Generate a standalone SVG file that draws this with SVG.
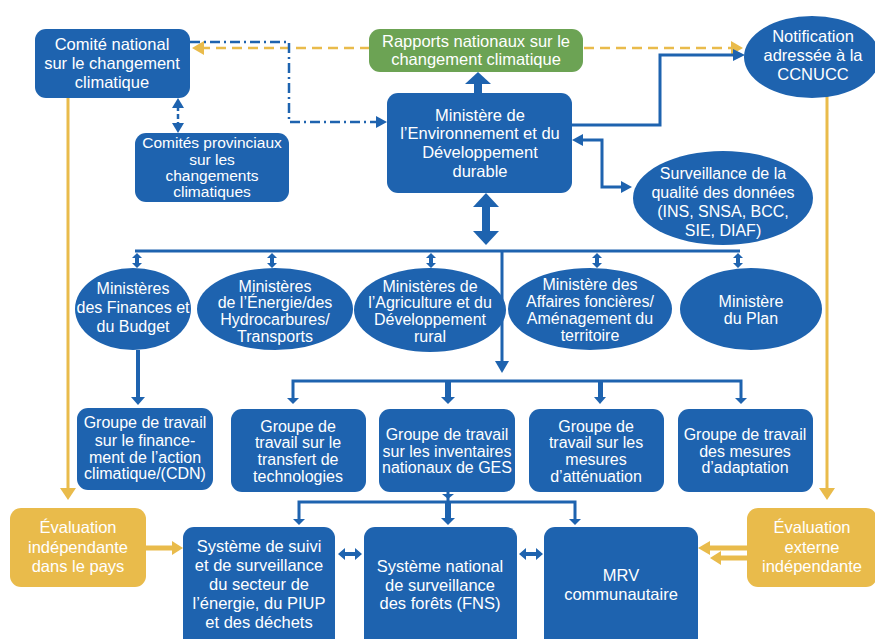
<svg xmlns="http://www.w3.org/2000/svg" width="875" height="639" viewBox="0 0 875 639">
<style>
.b{fill:#1e63af}
.y{fill:#e9bb4b}
.g{fill:#6ca354}
text{font-family:"Liberation Sans",Arial,sans-serif;font-size:16.5px;fill:#fff;text-anchor:middle}
.s text{font-size:16px}
.p text{font-size:15.5px}
.ln{fill:none;stroke:#1e63af;stroke-width:3}
.yl{fill:none;stroke:#e9bb4b;stroke-width:3}
.ah{fill:#1e63af}
.ya{fill:#e9bb4b}
</style>
<rect width="875" height="639" fill="#fff"/>
<g id="connectors">
<line x1="200" y1="48" x2="735" y2="48" stroke="#e9bb4b" stroke-width="2.5" stroke-dasharray="10 6"/>
<polygon class="ya" points="192,48 204,41 204,55"/>
<polygon class="ya" points="743,48 731,41 731,55"/>
<path d="M190,42 H289 V122 H378" fill="none" stroke="#1e63af" stroke-width="2.5" stroke-dasharray="10 4 2 4"/>
<polygon class="ah" points="387,122 376,116 376,128"/>
<line x1="178" y1="106" x2="178" y2="126" stroke="#1e63af" stroke-width="2.5" stroke-dasharray="5 3"/>
<polygon class="ah" points="178,98 172,108 184,108"/>
<polygon class="ah" points="178,133 172,123 184,123"/>
<rect class="ah" x="474" y="82" width="8" height="11"/>
<polygon class="ah" points="478,72 465,84 491,84"/>
<path class="ln" d="M572,125 H660 V55 H735"/>
<polygon class="ah" points="745,55 733,49 733,61"/>
<path class="ln" d="M582,140 H602 V187 H622"/>
<polygon class="ah" points="572,140 583,134 583,146"/>
<polygon class="ah" points="632,187 621,181 621,193"/>
<rect class="ah" x="482" y="205" width="8" height="27"/>
<polygon class="ah" points="486,193 473,207 499,207"/>
<polygon class="ah" points="486,245 473,231 499,231"/>
<path class="ln" d="M135,251 H740"/>
<g class="ah">
<path d="M137,253 l-5,5 h3 v5 h-3 l5,5 l5,-5 h-3 v-5 h3 z"/>
<path d="M272,253 l-5,5 h3 v5 h-3 l5,5 l5,-5 h-3 v-5 h3 z"/>
<path d="M431,253 l-5,5 h3 v5 h-3 l5,5 l5,-5 h-3 v-5 h3 z"/>
<path d="M597,253 l-5,5 h3 v5 h-3 l5,5 l5,-5 h-3 v-5 h3 z"/>
<path d="M738,253 l-5,5 h3 v5 h-3 l5,5 l5,-5 h-3 v-5 h3 z"/>
</g>
<path class="ln" d="M502,251 V362"/>
<polygon class="ah" points="502,373 495,361 509,361"/>
<path class="ln" d="M293,400 V381 H741 V400"/>
<polygon class="ah" points="293,404 287,398 299,398"/>
<polygon class="ah" points="741,404 735,398 747,398"/>
<rect class="ah" x="445" y="381" width="6" height="18"/>
<polygon class="ah" points="448,404 441,397 455,397"/>
<rect class="ah" x="598" y="381" width="5" height="18"/>
<polygon class="ah" points="600,404 594,397 606,397"/>
<path d="M138,350 V400" fill="none" stroke="#1e63af" stroke-width="4"/>
<polygon class="ah" points="138,405 131,397 145,397"/>
<path class="ln" d="M448,492 V502"/>
<polygon class="ah" points="448,499 442,494 454,494"/>
<path class="ln" d="M299,520 V502 H575 V520"/>
<polygon class="ah" points="299,525 293,519 305,519"/>
<polygon class="ah" points="575,525 569,519 581,519"/>
<rect class="ah" x="445" y="502" width="6" height="17"/>
<polygon class="ah" points="448,525 441,518 455,518"/>
<path d="M338,554 l7,-6 v4 h10 v-4 l7,6 l-7,6 v-4 h-10 v4 z" class="ah"/>
<path d="M519,554 l7,-6 v4 h10 v-4 l7,6 l-7,6 v-4 h-10 v4 z" class="ah"/>
<path class="yl" d="M68,98 V490"/>
<polygon class="ya" points="68,500 60,488 76,488"/>
<path class="yl" d="M827,95 V490"/>
<polygon class="ya" points="827,500 819,488 835,488"/>
<path d="M146,548 H173" fill="none" stroke="#e9bb4b" stroke-width="5"/>
<polygon class="ya" points="183,548 172,541 172,555"/>
<path d="M747,548 H708" fill="none" stroke="#e9bb4b" stroke-width="5"/>
<polygon class="ya" points="698,548 710,541 710,555"/>
<path d="M747,558 H719" fill="none" stroke="#e9bb4b" stroke-width="5"/>
<polygon class="ya" points="710,558 721,551 721,565"/>
</g>
<g id="comite-national"><rect class="b" x="35" y="29" width="155" height="69" rx="11"/><text x="112" y="50">Comité national</text><text x="112" y="69">sur le changement</text><text x="112" y="88">climatique</text></g>
<g id="comites-provinciaux" class="p"><rect class="b" x="135" y="133" width="154" height="69" rx="11"/><text x="212" y="148">Comités provinciaux</text><text x="212" y="165">sur les</text><text x="212" y="181">changements</text><text x="212" y="197">climatiques</text></g>
<g id="rapports"><rect class="g" x="369" y="29" width="214" height="43" rx="11"/><text x="476" y="47">Rapports nationaux sur le</text><text x="476" y="65">changement climatique</text></g>
<g id="medd"><rect class="b" x="387" y="93" width="185" height="100" rx="11"/><text x="480" y="121">Ministère de</text><text x="480" y="139">l’Environnement et du</text><text x="480" y="158">Développement</text><text x="480" y="177">durable</text></g>
<g id="notification"><ellipse class="b" cx="812" cy="57" rx="68" ry="41"/><text x="813" y="42">Notification</text><text x="813" y="61">adressée à la</text><text x="813" y="80">CCNUCC</text></g>
<g id="surveillance" class="s"><ellipse class="b" cx="723" cy="198" rx="90" ry="47"/><text x="723" y="179">Surveillance de la</text><text x="723" y="198">qualité des données</text><text x="723" y="217">(INS, SNSA, BCC,</text><text x="723" y="236">SIE, DIAF)</text></g>
<g id="min-finances" class="s"><ellipse class="b" cx="133" cy="309" rx="58" ry="41"/><text x="133" y="294">Ministères</text><text x="133" y="313">des Finances et</text><text x="133" y="332">du Budget</text></g>
<g id="min-energie" class="s"><ellipse class="b" cx="275" cy="309" rx="78" ry="41"/><text x="275" y="292">Ministères</text><text x="275" y="308">de l’Énergie/des</text><text x="275" y="325">Hydrocarbures/</text><text x="275" y="342">Transports</text></g>
<g id="min-agriculture" class="s"><ellipse class="b" cx="430" cy="310" rx="76" ry="42"/><text x="430" y="292">Ministères de</text><text x="430" y="308">l’Agriculture et du</text><text x="430" y="325">Développement</text><text x="430" y="342">rural</text></g>
<g id="min-affaires" class="s"><ellipse class="b" cx="590" cy="309" rx="82" ry="41"/><text x="590" y="290">Ministère des</text><text x="590" y="307">Affaires foncières/</text><text x="590" y="324">Aménagement du</text><text x="590" y="341">territoire</text></g>
<g id="min-plan" class="s"><ellipse class="b" cx="751" cy="309" rx="71" ry="41"/><text x="751" y="307">Ministère</text><text x="751" y="324">du Plan</text></g>
<g id="gt-financement" class="s"><rect class="b" x="77" y="408" width="136" height="82" rx="11"/><text x="145" y="428">Groupe de travail</text><text x="145" y="446">sur le finance-</text><text x="145" y="463">ment de l’action</text><text x="145" y="479">climatique/(CDN)</text></g>
<g id="gt-transfert" class="s"><rect class="b" x="231" y="409" width="135" height="83" rx="11"/><text x="298" y="432">Groupe de</text><text x="298" y="448">travail sur le</text><text x="298" y="465">transfert de</text><text x="298" y="482">technologies</text></g>
<g id="gt-ges" class="s"><rect class="b" x="379" y="409" width="136" height="83" rx="11"/><text x="447" y="440">Groupe de travail</text><text x="447" y="457">sur les inventaires</text><text x="447" y="473">nationaux de GES</text></g>
<g id="gt-attenuation" class="s"><rect class="b" x="529" y="409" width="135" height="83" rx="11"/><text x="596" y="432">Groupe de</text><text x="596" y="448">travail sur les</text><text x="596" y="465">mesures</text><text x="596" y="482">d’atténuation</text></g>
<g id="gt-adaptation" class="s"><rect class="b" x="678" y="409" width="135" height="83" rx="11"/><text x="745" y="440">Groupe de travail</text><text x="745" y="457">des mesures</text><text x="745" y="473">d’adaptation</text></g>
<g id="eval-pays"><rect class="y" x="10" y="508" width="136" height="79" rx="11"/><text x="78" y="533">Évaluation</text><text x="78" y="553">indépendante</text><text x="78" y="572">dans le pays</text></g>
<g id="systeme-suivi"><rect class="b" x="183" y="527" width="152" height="130" rx="11"/><text x="259" y="552">Système de suivi</text><text x="259" y="571">et de surveillance</text><text x="259" y="590">du secteur de</text><text x="259" y="609">l’énergie, du PIUP</text><text x="259" y="628">et des déchets</text></g>
<g id="fns"><rect class="b" x="364" y="527" width="153" height="130" rx="11"/><text x="440" y="572">Système national</text><text x="440" y="591">de surveillance</text><text x="440" y="609">des forêts (FNS)</text></g>
<g id="mrv"><rect class="b" x="544" y="527" width="154" height="130" rx="11"/><text x="621" y="581">MRV</text><text x="621" y="600">communautaire</text></g>
<g id="eval-externe"><rect class="y" x="747" y="508" width="130" height="79" rx="11"/><text x="812" y="533">Évaluation</text><text x="812" y="553">externe</text><text x="812" y="572">indépendante</text></g>
</svg>
